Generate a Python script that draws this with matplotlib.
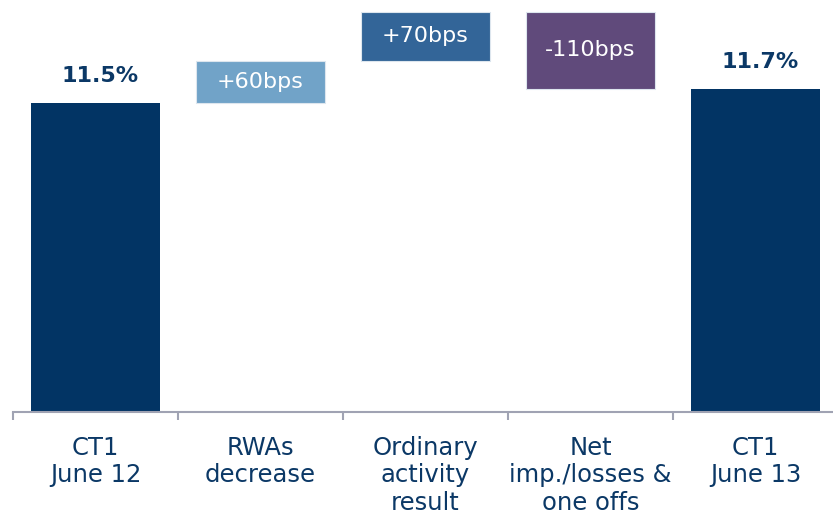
# coding=utf-8
"""
Cascada CT1 June 12 -> June 13
"""

# Importamos librerías
import numpy as np
import matplotlib.pyplot as plt

# Datos
categorias = ['CT1\nJune 12', 'RWAs\ndecrease', 'Ordinary\nactivity\nresult',
              'Net\nimp./losses &\none offs', 'CT1\nJune 13']
valores = [11.5, 0.6, 0.7, -1.1, 11.7]
etiquetas = ['11.5%', '+60bps', '+70bps', '-110bps', '11.7%']
es_total = [True, False, False, False, True]

# Colores
NAVY = '#023464'
colores = [NAVY, '#71A3C8', '#336598', '#604A7B', NAVY]
TEXTO = '#0B3866'

fig = plt.figure(figsize=(8.33, 5.17), dpi=100)
ax = fig.add_axes([13 / 833., 105 / 517., 825 / 833., 412 / 517.])

# Calculamos bases de la cascada
x = np.arange(len(categorias))
bases = []
alturas = []
acumulado = 0.0
for v, tot in zip(valores, es_total):
    if tot:
        bases.append(0.0)
        alturas.append(v)
        acumulado = v
    else:
        bases.append(acumulado)
        alturas.append(v)
        acumulado += v

ax.bar(x, alturas, bottom=bases, width=0.78, color=colores,
       edgecolor=['none', '#DDE6EE', '#DDE6EE', '#DDE6EE', 'none'],
       linewidth=0.8, zorder=2)

# Etiquetas
for i in range(len(x)):
    if es_total[i]:
        ax.annotate(etiquetas[i], (x[i], alturas[i]), xytext=(3, 12),
                    textcoords='offset points', ha='center', va='bottom',
                    fontsize=16, fontweight='bold', color=TEXTO)
    else:
        ax.text(x[i], bases[i] + alturas[i] / 2., etiquetas[i],
                ha='center', va='center', fontsize=16, color='white')

# Ejes
ax.set_xlim(-0.5, len(x) - 0.5)
ax.set_ylim(7.086, 12.971)
ax.set_yticks([])
ax.set_xticks(x)
ax.set_xticklabels(categorias, fontsize=17.5, color=TEXTO, linespacing=1.2)
ax.set_xticks(np.arange(-0.5, len(x)), minor=True)
ax.tick_params(axis='x', which='major', length=0, pad=17)
ax.tick_params(axis='x', which='minor', length=6, width=1.5,
               color='#A0A3B3', direction='out')
for lado in ['top', 'right', 'left']:
    ax.spines[lado].set_visible(False)
ax.spines['bottom'].set_color('#A0A3B3')
ax.spines['bottom'].set_linewidth(1.5)

fig.savefig('out.png', dpi=100)
